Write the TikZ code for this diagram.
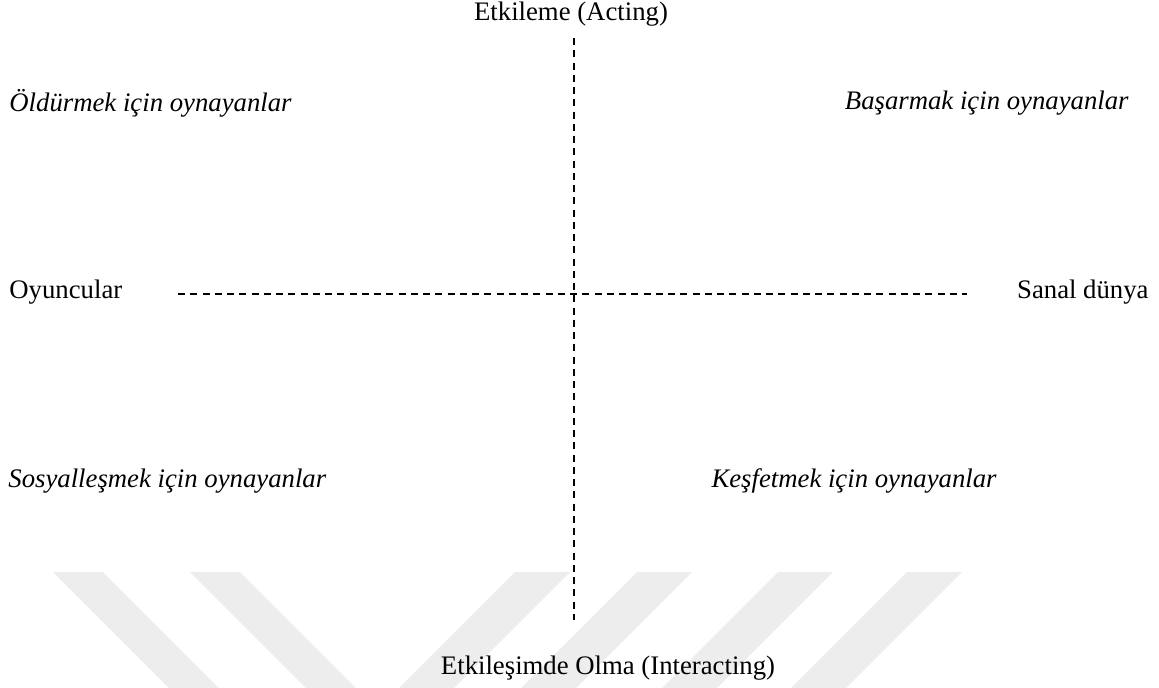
\documentclass[tikz,border=0pt,12pt]{standalone}
\usepackage{fontspec}
\setmainfont{Liberation Serif}
\usepackage{xcolor}
\usepackage{tikz}
\usetikzlibrary{positioning}
\definecolor{markgray}{RGB}{237,237,237}

\begin{document}
\begin{tikzpicture}[
  x=0.01577cm, y=-0.01577cm,
  every node/.style={font=\fontsize{12}{14}\selectfont, inner sep=0pt},
  axislabel/.style={anchor=center},
  playertype/.style={font=\fontsize{12}{14}\selectfont\itshape},
  axisline/.style={line width=0.8pt, dash pattern=on 3.2pt off 2.3pt}
]
\useasboundingbox (0,0) rectangle (1159,688);

% faint watermark stripes
\foreach \x in {53,190} {
  \fill[markgray] (\x,572) -- (\x+50,572) -- (\x+166,688) -- (\x+116,688) -- cycle;
}
\foreach \x in {515,637,778,907} {
  \fill[markgray] (\x,572) -- (\x+55,572) -- (\x-61,688) -- (\x-116,688) -- cycle;
}

\node[axislabel] (acting) at (571,14) {Etkileme (Acting)};
\node[axislabel] (interacting) at (608,668) {Etkileşimde Olma (Interacting)};
\node[anchor=west] (players) at (9,292) {Oyuncular};
\node[anchor=east] (world) at (1149,292) {Sanal dünya};

\node[playertype, anchor=west] (killers) at (9,103) {Öldürmek için oynayanlar};
\node[playertype, anchor=east] (achievers) at (1129,103) {Başarmak için oynayanlar};
\node[playertype, anchor=west] (socializers) at (8,481) {Sosyalleşmek için oynayanlar};
\node[playertype, anchor=east] (explorers) at (997,481) {Keşfetmek için oynayanlar};

\coordinate (vtop) at (574,38);
\coordinate (vbot) at (574,620);
\coordinate (hleft) at (178,294);
\coordinate (hright) at (967,294);

\draw[axisline] (vtop) -- (vbot);
\draw[axisline] (hleft) -- (hright);
\end{tikzpicture}
\end{document}
